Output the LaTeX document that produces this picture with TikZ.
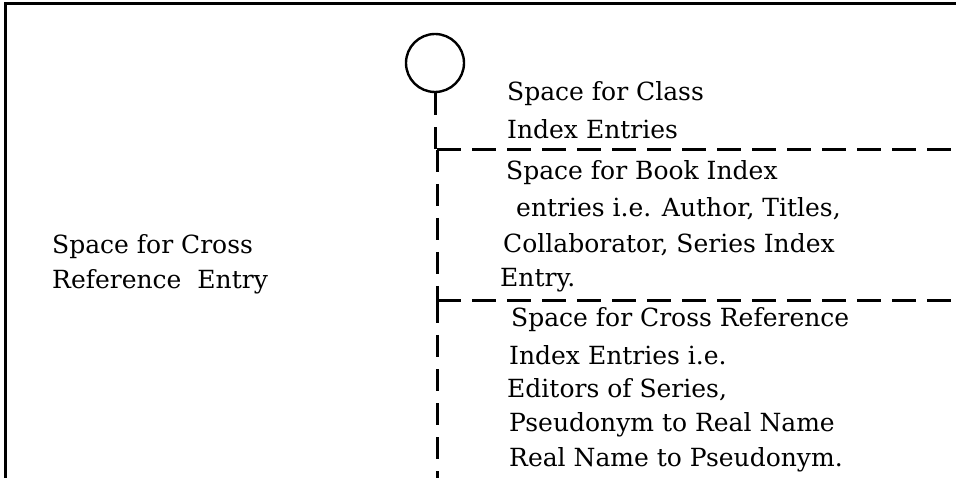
\documentclass[tikz,border=0pt]{standalone}
\usepackage{fontspec}
\setmainfont{DejaVu Serif}
\begin{document}
\begin{tikzpicture}[x=1pt,y=-1pt,
  txt/.style={anchor=west, inner sep=0pt, font=\fontsize{25}{30}\selectfont},
  frameline/.style={line width=3pt},
  dline/.style={line width=3pt, dash pattern=on 22pt off 12pt},
  hline/.style={line width=3pt, dash pattern=on 24pt off 11pt}]
\useasboundingbox (0,0) rectangle (956,478);
\draw[frameline] (5,478) -- (5,4) -- (956,4);
\node[circle, draw, line width=2.4pt, minimum size=58pt, inner sep=0pt] (c) at (435,63) {};
\coordinate (j1) at (437,150);
\coordinate (j2) at (437,301);
\coordinate (e1) at (956,150);
\coordinate (e2) at (956,301);
\coordinate (bot) at (437,478);
\draw[dline] (c.south) -- (c.south |- j1);
\draw[dline] (j1) -- (j2);
\draw[dline] (j2) -- (bot);
\draw[hline] (j1) -- (e1);
\draw[hline] (j2) -- (e2);
% left text
\node[txt] (l1) at (52,247) {Space for Cross};
\node[txt] (l2) at (52,282) {Reference\ \ Entry};
% class
\node[txt] (a1) at (507,94) {Space for Class};
\node[txt] (a2) at (507,129) {Index Entries};
% book
\node[txt] (b1) at (506,173) {Space for Book Index};
\node[txt] (b2) at (516,209) {entries i.e. Author, Titles,};
\node[txt] (b3) at (503,245) {Collaborator, Series Index};
\node[txt] (b4) at (500,280) {Entry.};
% cross ref
\node[txt] (r1) at (511,320) {Space for Cross Reference};
\node[txt] (r2) at (509,355) {Index Entries i.e.};
\node[txt] (r3) at (507,390) {Editors of Series,};
\node[txt] (r4) at (509,425) {Pseudonym to Real Name};
\node[txt] (r5) at (509,460) {Real Name to Pseudonym.};
\end{tikzpicture}
\end{document}
